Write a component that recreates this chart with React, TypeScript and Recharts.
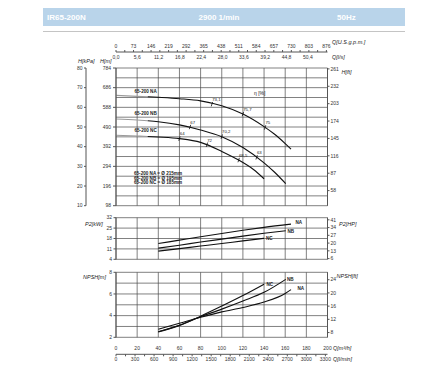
import React from 'react';
import { ComposedChart, Line, XAxis, YAxis, ReferenceLine } from 'recharts';

const FONT = '"Liberation Sans", Arial, sans-serif';

// ---------- axis ticks ----------
const qTicks = [0, 20, 40, 60, 80, 100, 120, 140, 160, 180, 200];
const gpmTicks = [0, 36.5, 73, 109.5, 146, 182.5, 219, 255.5, 292, 328.5, 365, 401.5, 438, 474.5, 511, 547.5, 584, 620.5, 657, 693.5, 730, 766.5, 803, 839.5, 876];
const lpsTicks = [0, 5.6, 11.2, 16.8, 22.4, 28, 33.6, 39.2, 44.8, 50.4];
const lminTicks = [0, 150, 300, 450, 600, 750, 900, 1050, 1200, 1350, 1500, 1650, 1800, 1950, 2100, 2250, 2400, 2550, 2700, 2850, 3000, 3150, 3300];
const hTicks = [10, 20, 30, 40, 50, 60, 70, 80];
const hGrid = [10, 15, 20, 25, 30, 35, 40, 45, 50, 55, 60, 65, 70, 75, 80];
const kpaTicks = [98, 196, 294, 392, 490, 588, 686, 784];
const ftTicks = [58, 87, 116, 145, 174, 203, 232, 261];
const kwTicks = [4, 11, 18, 25, 32];
const hpTicks = [6, 13, 20, 27, 34, 41];
const npshTicks = [2, 4, 6, 8];
const npshGrid = [2, 3, 4, 5, 6, 7, 8];
const npshFtTicks = [8, 12, 16, 20, 24];

// ---------- H-Q curves ----------
const naQ = [0, 20, 30, 40, 60, 80, 100, 120, 140, 150, 160, 165.5];
const naH = [66.1, 65.6, 65.4, 65.1, 64.4, 63.3, 60.8, 56.6, 50.2, 46.3, 41.6, 38.8];
const nbQ = [0, 20, 30, 40, 60, 80, 100, 120, 140, 150, 160.5];
const nbH = [54.1, 53.6, 53.2, 52.7, 51.1, 48.5, 45.1, 39.6, 31.8, 27.0, 21.2];
const ncQ = [0, 20, 30, 40, 60, 80, 100, 116, 130, 140];
const ncH = [45.8, 45.4, 45.2, 44.9, 44.1, 42.2, 37.6, 33.2, 28.4, 23.7];

// efficiency marks
const effNAQ = [90.7, 120, 141];
const effNAH = [61.6, 56.6, 49.8];
const effNALabels = ['73,1', '75,7', '75'];
const effNBQ = [70, 100, 133];
const effNBH = [50.0, 45.1, 34.6];
const effNBLabels = ['67', '70,2', '63'];
const effNCQ = [60, 86, 116];
const effNCH = [44.1, 41.0, 33.2];
const effNCLabels = ['64', '72', '68,5'];

// ---------- Power ----------
const naPQ = [40, 60, 80, 100, 120, 140, 165.5];
const naP = [14.6, 16.9, 19.2, 21.4, 23.5, 25.5, 27.7];
const nbPQ = [40, 60, 80, 100, 120, 140, 160.5];
const nbP = [11.5, 13.5, 15.6, 17.6, 19.6, 21.5, 23.2];
const ncPQ = [40, 60, 80, 100, 120, 140];
const ncP = [9.5, 11.2, 12.9, 14.6, 16.4, 18.1];

// ---------- NPSH ----------
const naNQ = [40, 60, 80, 100, 120, 140, 160, 165.5];
const naN = [2.75, 3.3, 3.85, 4.35, 4.75, 5.25, 6.05, 6.4];
const nbNQ = [40, 60, 80, 100, 120, 140, 160.5];
const nbN = [2.52, 3.12, 3.9, 4.6, 5.35, 6.15, 7.35];
const ncNQ = [40, 60, 80, 100, 120, 140];
const ncN = [2.5, 3.1, 3.95, 4.88, 5.85, 6.9];

const pts = (qs: number[], vs: number[], labels?: string[]) =>
  qs.map((q, i) => ({ q, v: vs[i], label: labels ? labels[i] : '' }));
const upTo = (qs: number[], vs: number[], qMax: number) => pts(qs, vs).filter((p) => p.q <= qMax);
const from = (qs: number[], vs: number[], qMin: number) => pts(qs, vs).filter((p) => p.q >= qMin);

const AX = '#555';
const GRID = '#4a4a4a';
const INK = '#111';
const tickStyle = { fontSize: 5, fill: '#333', fontFamily: FONT };

const fmtComma = (v: number) => v.toFixed(1).replace('.', ',');

const gridLines = (yId: string, xVals: number[], yVals: number[]) => [
  ...xVals.map((v) => (
    <ReferenceLine key={`gx${v}`} xAxisId="q" yAxisId={yId} x={v} stroke={GRID} strokeWidth={0.7} ifOverflow="visible" />
  )),
  ...yVals.map((v) => (
    <ReferenceLine key={`gy${v}`} xAxisId="q" yAxisId={yId} y={v} stroke={GRID} strokeWidth={0.7} ifOverflow="visible" />
  )),
];

const GpmTick = (props: any) => {
  const { x, y, payload } = props;
  const v = payload.value;
  if (Math.round(v) % 73 !== 0) return <g />;
  return (
    <text x={x} y={y} textAnchor="middle" fontSize={5} fill="#333" fontFamily={FONT}>
      {v}
    </text>
  );
};

const LminTick = (props: any) => {
  const { x, y, payload } = props;
  const v = payload.value;
  if (v % 300 !== 0) return <g />;
  return (
    <text x={x} y={y + 3.6} textAnchor="middle" fontSize={5} fill="#333" fontFamily={FONT}>
      {v}
    </text>
  );
};

const effDot = (props: any) => {
  const { cx, cy, payload, index } = props;
  return (
    <g key={`e${index}-${payload.label}`}>
      <line x1={cx - 0.7} y1={cy + 2.2} x2={cx + 0.7} y2={cy - 2.2} stroke={INK} strokeWidth={0.8} />
      <text x={cx + 0.3} y={cy - 3.2} fontSize={4.3} fill="#222" fontFamily={FONT}>
        {payload.label}
      </text>
    </g>
  );
};

const T = ({ x, y, children, size = 5, bold = false, italic = false, anchor = 'start' }: any) => (
  <text
    x={x}
    y={y}
    fontSize={size}
    fontWeight={bold ? 'bold' : 'normal'}
    fontStyle={italic ? 'italic' : 'normal'}
    textAnchor={anchor}
    fill="#222"
    fontFamily={FONT}
  >
    {children}
  </text>
);

const curve = (key: string, xId: string, yId: string, data: any[], color = INK) => (
  <Line
    key={key}
    xAxisId={xId}
    yAxisId={yId}
    data={data}
    dataKey="v"
    type="monotone"
    stroke={color}
    strokeWidth={1.1}
    dot={false}
    activeDot={false}
    isAnimationActive={false}
  />
);

const effLine = (key: string, data: any[]) => (
  <Line
    key={key}
    xAxisId="q"
    yAxisId="m"
    data={data}
    dataKey="v"
    stroke="none"
    dot={effDot}
    activeDot={false}
    isAnimationActive={false}
  />
);

export default function App() {
  const GRAY = '#9a9a9a';
  return (
    <div style={{ position: 'absolute', left: 0, top: 0, width: 448, height: 383, background: '#fff', overflow: 'hidden' }}>
      {/* title bar */}
      <div style={{ position: 'absolute', left: 43, top: 8, width: 362, height: 17.5, background: '#b9d4ea' }} />
      <div style={{ position: 'absolute', left: 43, top: 31, width: 362, height: 1, background: '#c4c4c4' }} />

      {/* H chart */}
      <div style={{ position: 'absolute', left: 0, top: 0 }}>
        <ComposedChart width={448} height={215} margin={{ top: 36, right: 90.5, bottom: 9.3, left: 69 }}>
          <XAxis xAxisId="q" dataKey="q" type="number" domain={[0, 200]} ticks={qTicks} hide height={0} />
          <XAxis
            xAxisId="b_gpm"
            dataKey="q"
            orientation="top"
            type="number"
            domain={[0, 880.57]}
            allowDataOverflow
            ticks={gpmTicks}
            height={16}
            tickSize={2}
            tickMargin={2.2}
            stroke={AX}
            tick={<GpmTick />}
            interval={0}
          />
          <XAxis
            xAxisId="a_lps"
            dataKey="q"
            orientation="top"
            type="number"
            domain={[0, 55.556]}
            allowDataOverflow
            ticks={lpsTicks}
            height={16}
            axisLine={false}
            tickLine={false}
            tickSize={0}
            tickMargin={9.2}
            tick={tickStyle}
            tickFormatter={fmtComma}
            interval={0}
          />
          <YAxis yAxisId="m" type="number" domain={[10, 80]} ticks={hTicks} width={17} tickSize={2} tickMargin={1.5} tick={tickStyle} stroke={AX} interval={0} />
          <YAxis yAxisId="kpa" type="number" domain={[98, 784]} allowDataOverflow ticks={kpaTicks} width={30} tickSize={3} tickMargin={2} tick={tickStyle} stroke={AX} interval={0} />
          <YAxis yAxisId="ft" orientation="right" type="number" domain={[32.81, 262.47]} allowDataOverflow ticks={ftTicks} width={30} tickSize={2} tickMargin={1} tick={tickStyle} stroke={AX} interval={0} />
          {gridLines('m', qTicks, hGrid)}
          {curve('naG', 'q', 'm', upTo(naQ, naH, 30), GRAY)}
          {curve('nbG', 'q', 'm', upTo(nbQ, nbH, 30), GRAY)}
          {curve('ncG', 'q', 'm', upTo(ncQ, ncH, 30), GRAY)}
          {curve('na', 'q', 'm', from(naQ, naH, 30))}
          {curve('nb', 'q', 'm', from(nbQ, nbH, 30))}
          {curve('nc', 'q', 'm', from(ncQ, ncH, 30))}
          {effLine('ena', pts(effNAQ, effNAH, effNALabels))}
          {effLine('enb', pts(effNBQ, effNBH, effNBLabels))}
          {effLine('enc', pts(effNCQ, effNCH, effNCLabels))}
        </ComposedChart>
      </div>

      {/* Power chart */}
      <div style={{ position: 'absolute', left: 0, top: 205 }}>
        <ComposedChart width={448} height={60} margin={{ top: 12.7, right: 90.5, bottom: 5.7, left: 69 }}>
          <XAxis xAxisId="q" dataKey="q" type="number" domain={[0, 200]} ticks={qTicks} hide height={0} />
          <YAxis yAxisId="kw" type="number" domain={[4, 32]} ticks={kwTicks} width={47} tickSize={2.5} tickMargin={1.5} tick={tickStyle} stroke={AX} interval={0} />
          <YAxis yAxisId="hp" orientation="right" type="number" domain={[5.364, 42.91]} allowDataOverflow ticks={hpTicks} width={30} tickSize={2} tickMargin={1} tick={tickStyle} stroke={AX} interval={0} />
          {gridLines('kw', qTicks, kwTicks)}
          {curve('pa', 'q', 'kw', pts(naPQ, naP))}
          {curve('pb', 'q', 'kw', pts(nbPQ, nbP))}
          {curve('pc', 'q', 'kw', pts(ncPQ, ncP))}
        </ComposedChart>
      </div>

      {/* NPSH chart */}
      <div style={{ position: 'absolute', left: 0, top: 262 }}>
        <ComposedChart width={448} height={121} margin={{ top: 10.3, right: 90.5, bottom: 16.7, left: 69 }}>
          <XAxis
            xAxisId="z_lmin"
            dataKey="q"
            type="number"
            domain={[0, 3333.33]}
            allowDataOverflow
            ticks={lminTicks}
            height={12}
            tickSize={2}
            tickMargin={1.2}
            stroke={AX}
            tick={<LminTick />}
            interval={0}
          />
          <XAxis
            xAxisId="q"
            dataKey="q"
            type="number"
            domain={[0, 200]}
            ticks={qTicks}
            height={17}
            axisLine={false}
            tickLine={false}
            tickSize={0}
            tickMargin={8.9}
            tick={tickStyle}
            interval={0}
          />
          <YAxis yAxisId="n" type="number" domain={[2, 8]} ticks={npshTicks} width={47} tickSize={2.5} tickMargin={1.5} tick={tickStyle} stroke={AX} interval={0} />
          <YAxis yAxisId="nft" orientation="right" type="number" domain={[6.562, 26.247]} allowDataOverflow ticks={npshFtTicks} width={30} tickSize={2} tickMargin={1} tick={tickStyle} stroke={AX} interval={0} />
          {gridLines('n', qTicks, npshGrid)}
          {curve('npa', 'q', 'n', pts(naNQ, naN))}
          {curve('npb', 'q', 'n', pts(nbNQ, nbN))}
          {curve('npc', 'q', 'n', pts(ncNQ, ncN))}
        </ComposedChart>
      </div>

      {/* text overlay */}
      <svg width={448} height={383} style={{ position: 'absolute', left: 0, top: 0, pointerEvents: 'none' }}>
        <text x={47} y={19.8} fontSize={8} fontWeight="bold" fill="#fff" fontFamily={FONT}>IR65-200N</text>
        <text x={219} y={19.8} fontSize={8} fontWeight="bold" fill="#fff" fontFamily={FONT} textAnchor="middle">2900 1/min</text>
        <text x={337} y={19.8} fontSize={8} fontWeight="bold" fill="#fff" fontFamily={FONT}>50Hz</text>

        <T x={332} y={43.7} size={5.5} italic>Q[U.S.g.p.m.]</T>
        <T x={332} y={58.5} size={5.5} italic>Q[l/s]</T>
        <T x={78} y={62.7} size={5.5} italic>H[kPa]</T>
        <T x={100} y={62.7} size={5.5} italic>H[m]</T>
        <T x={341.5} y={74.3} size={5.5} italic>H[ft]</T>
        <T x={254} y={95.4} size={5}>η [%]</T>

        <T x={134.5} y={93} size={4.6} bold>65-200 NA</T>
        <T x={134.5} y={114.7} size={4.6} bold>65-200 NB</T>
        <T x={134.5} y={132} size={4.6} bold>65-200 NC</T>
        <T x={134} y={175} size={4.6} bold>65-200 NA = Ø 215mm</T>
        <T x={134} y={179.7} size={4.6} bold>65-200 NB = Ø 195mm</T>
        <T x={134} y={184.4} size={4.6} bold>65-200 NC = Ø 185mm</T>

        <T x={85} y={226} size={5.5} italic>P2[kW]</T>
        <T x={339} y={226} size={5.5} italic>P2[HP]</T>
        <T x={295.5} y={224.2} size={4.6} bold>NA</T>
        <T x={287.5} y={232.7} size={4.6} bold>NB</T>
        <T x={266} y={240} size={4.6} bold>NC</T>

        <T x={83} y={278.7} size={5.5} italic>NPSH[m]</T>
        <T x={336.5} y={277.5} size={5.5} italic>NPSH[ft]</T>
        <T x={287} y={280.7} size={4.6} bold>NB</T>
        <T x={297.5} y={290} size={4.6} bold>NA</T>
        <T x={266.5} y={285.7} size={4.6} bold>NC</T>

        <T x={333} y={350} size={5.5} italic>Q[m³/h]</T>
        <T x={333} y={361.3} size={5.5} italic>Q[l/min]</T>
      </svg>
    </div>
  );
}
